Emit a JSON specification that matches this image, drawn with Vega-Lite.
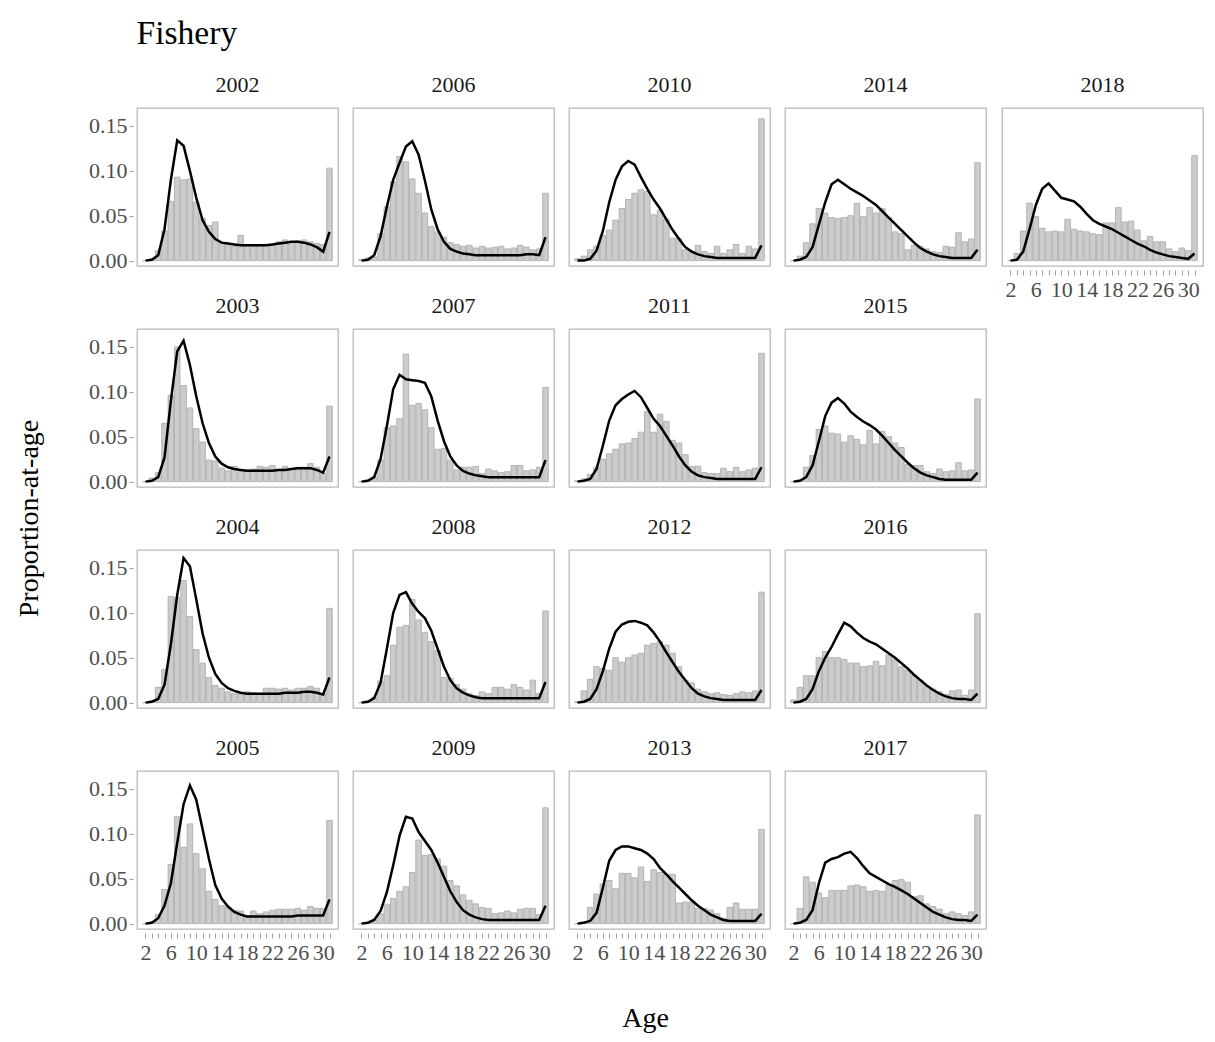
{
"$schema": "https://vega.github.io/schema/vega-lite/v6.json",
"background": "white",
"padding": {"left": 15, "top": 17, "right": 6, "bottom": 6},
"datasets": {"fish": [
{"year":2002,"age":2,"obs":0,"exp":0},{"year":2002,"age":3,"obs":0.002,"exp":0.001},{"year":2002,"age":4,"obs":0.011,"exp":0.006},{"year":2002,"age":5,"obs":0.033,"exp":0.035},{"year":2002,"age":6,"obs":0.066,"exp":0.09},{"year":2002,"age":7,"obs":0.093,"exp":0.134},{"year":2002,"age":8,"obs":0.09,"exp":0.128},{"year":2002,"age":9,"obs":0.091,"exp":0.1},{"year":2002,"age":10,"obs":0.065,"exp":0.07},{"year":2002,"age":11,"obs":0.047,"exp":0.045},{"year":2002,"age":12,"obs":0.039,"exp":0.032},{"year":2002,"age":13,"obs":0.043,"exp":0.024},{"year":2002,"age":14,"obs":0.02,"exp":0.02},{"year":2002,"age":15,"obs":0.018,"exp":0.019},{"year":2002,"age":16,"obs":0.016,"exp":0.018},{"year":2002,"age":17,"obs":0.028,"exp":0.017},{"year":2002,"age":18,"obs":0.017,"exp":0.017},{"year":2002,"age":19,"obs":0.018,"exp":0.017},{"year":2002,"age":20,"obs":0.017,"exp":0.017},{"year":2002,"age":21,"obs":0.017,"exp":0.017},{"year":2002,"age":22,"obs":0.018,"exp":0.018},{"year":2002,"age":23,"obs":0.021,"exp":0.019},{"year":2002,"age":24,"obs":0.023,"exp":0.02},{"year":2002,"age":25,"obs":0.02,"exp":0.021},{"year":2002,"age":26,"obs":0.022,"exp":0.021},{"year":2002,"age":27,"obs":0.023,"exp":0.02},{"year":2002,"age":28,"obs":0.021,"exp":0.018},{"year":2002,"age":29,"obs":0.019,"exp":0.015},{"year":2002,"age":30,"obs":0.018,"exp":0.01},{"year":2002,"age":31,"obs":0.103,"exp":0.032},
{"year":2003,"age":2,"obs":0,"exp":0},{"year":2003,"age":3,"obs":0.004,"exp":0.001},{"year":2003,"age":4,"obs":0.01,"exp":0.005},{"year":2003,"age":5,"obs":0.065,"exp":0.027},{"year":2003,"age":6,"obs":0.096,"exp":0.09},{"year":2003,"age":7,"obs":0.15,"exp":0.145},{"year":2003,"age":8,"obs":0.107,"exp":0.157},{"year":2003,"age":9,"obs":0.082,"exp":0.13},{"year":2003,"age":10,"obs":0.059,"exp":0.095},{"year":2003,"age":11,"obs":0.044,"exp":0.065},{"year":2003,"age":12,"obs":0.024,"exp":0.043},{"year":2003,"age":13,"obs":0.023,"exp":0.028},{"year":2003,"age":14,"obs":0.015,"exp":0.02},{"year":2003,"age":15,"obs":0.012,"exp":0.016},{"year":2003,"age":16,"obs":0.017,"exp":0.014},{"year":2003,"age":17,"obs":0.011,"exp":0.013},{"year":2003,"age":18,"obs":0.013,"exp":0.012},{"year":2003,"age":19,"obs":0.014,"exp":0.012},{"year":2003,"age":20,"obs":0.017,"exp":0.012},{"year":2003,"age":21,"obs":0.016,"exp":0.012},{"year":2003,"age":22,"obs":0.018,"exp":0.012},{"year":2003,"age":23,"obs":0.014,"exp":0.013},{"year":2003,"age":24,"obs":0.017,"exp":0.013},{"year":2003,"age":25,"obs":0.014,"exp":0.014},{"year":2003,"age":26,"obs":0.016,"exp":0.015},{"year":2003,"age":27,"obs":0.016,"exp":0.015},{"year":2003,"age":28,"obs":0.02,"exp":0.015},{"year":2003,"age":29,"obs":0.016,"exp":0.013},{"year":2003,"age":30,"obs":0.009,"exp":0.01},{"year":2003,"age":31,"obs":0.084,"exp":0.028},
{"year":2004,"age":2,"obs":0,"exp":0},{"year":2004,"age":3,"obs":0.002,"exp":0.001},{"year":2004,"age":4,"obs":0.017,"exp":0.004},{"year":2004,"age":5,"obs":0.037,"exp":0.02},{"year":2004,"age":6,"obs":0.118,"exp":0.065},{"year":2004,"age":7,"obs":0.117,"exp":0.12},{"year":2004,"age":8,"obs":0.136,"exp":0.161},{"year":2004,"age":9,"obs":0.096,"exp":0.152},{"year":2004,"age":10,"obs":0.059,"exp":0.115},{"year":2004,"age":11,"obs":0.044,"exp":0.077},{"year":2004,"age":12,"obs":0.028,"exp":0.05},{"year":2004,"age":13,"obs":0.019,"exp":0.032},{"year":2004,"age":14,"obs":0.016,"exp":0.022},{"year":2004,"age":15,"obs":0.012,"exp":0.016},{"year":2004,"age":16,"obs":0.01,"exp":0.013},{"year":2004,"age":17,"obs":0.01,"exp":0.011},{"year":2004,"age":18,"obs":0.012,"exp":0.01},{"year":2004,"age":19,"obs":0.011,"exp":0.01},{"year":2004,"age":20,"obs":0.01,"exp":0.01},{"year":2004,"age":21,"obs":0.016,"exp":0.01},{"year":2004,"age":22,"obs":0.016,"exp":0.01},{"year":2004,"age":23,"obs":0.015,"exp":0.01},{"year":2004,"age":24,"obs":0.016,"exp":0.011},{"year":2004,"age":25,"obs":0.014,"exp":0.011},{"year":2004,"age":26,"obs":0.016,"exp":0.011},{"year":2004,"age":27,"obs":0.016,"exp":0.012},{"year":2004,"age":28,"obs":0.018,"exp":0.012},{"year":2004,"age":29,"obs":0.016,"exp":0.011},{"year":2004,"age":30,"obs":0.01,"exp":0.009},{"year":2004,"age":31,"obs":0.105,"exp":0.028},
{"year":2005,"age":2,"obs":0,"exp":0},{"year":2005,"age":3,"obs":0.002,"exp":0.001},{"year":2005,"age":4,"obs":0.01,"exp":0.006},{"year":2005,"age":5,"obs":0.038,"exp":0.02},{"year":2005,"age":6,"obs":0.066,"exp":0.045},{"year":2005,"age":7,"obs":0.119,"exp":0.09},{"year":2005,"age":8,"obs":0.085,"exp":0.133},{"year":2005,"age":9,"obs":0.111,"exp":0.154},{"year":2005,"age":10,"obs":0.078,"exp":0.138},{"year":2005,"age":11,"obs":0.061,"exp":0.105},{"year":2005,"age":12,"obs":0.036,"exp":0.072},{"year":2005,"age":13,"obs":0.027,"exp":0.043},{"year":2005,"age":14,"obs":0.02,"exp":0.028},{"year":2005,"age":15,"obs":0.018,"exp":0.019},{"year":2005,"age":16,"obs":0.015,"exp":0.013},{"year":2005,"age":17,"obs":0.014,"exp":0.01},{"year":2005,"age":18,"obs":0.009,"exp":0.008},{"year":2005,"age":19,"obs":0.014,"exp":0.008},{"year":2005,"age":20,"obs":0.011,"exp":0.008},{"year":2005,"age":21,"obs":0.013,"exp":0.008},{"year":2005,"age":22,"obs":0.015,"exp":0.008},{"year":2005,"age":23,"obs":0.016,"exp":0.008},{"year":2005,"age":24,"obs":0.016,"exp":0.008},{"year":2005,"age":25,"obs":0.016,"exp":0.008},{"year":2005,"age":26,"obs":0.017,"exp":0.009},{"year":2005,"age":27,"obs":0.015,"exp":0.009},{"year":2005,"age":28,"obs":0.019,"exp":0.009},{"year":2005,"age":29,"obs":0.017,"exp":0.009},{"year":2005,"age":30,"obs":0.017,"exp":0.009},{"year":2005,"age":31,"obs":0.115,"exp":0.027},
{"year":2006,"age":2,"obs":0.001,"exp":0},{"year":2006,"age":3,"obs":0.003,"exp":0.001},{"year":2006,"age":4,"obs":0.004,"exp":0.006},{"year":2006,"age":5,"obs":0.03,"exp":0.027},{"year":2006,"age":6,"obs":0.06,"exp":0.06},{"year":2006,"age":7,"obs":0.088,"exp":0.09},{"year":2006,"age":8,"obs":0.116,"exp":0.109},{"year":2006,"age":9,"obs":0.11,"exp":0.127},{"year":2006,"age":10,"obs":0.091,"exp":0.133},{"year":2006,"age":11,"obs":0.075,"exp":0.118},{"year":2006,"age":12,"obs":0.053,"exp":0.089},{"year":2006,"age":13,"obs":0.038,"exp":0.057},{"year":2006,"age":14,"obs":0.032,"exp":0.035},{"year":2006,"age":15,"obs":0.026,"exp":0.021},{"year":2006,"age":16,"obs":0.02,"exp":0.013},{"year":2006,"age":17,"obs":0.018,"exp":0.01},{"year":2006,"age":18,"obs":0.016,"exp":0.008},{"year":2006,"age":19,"obs":0.017,"exp":0.007},{"year":2006,"age":20,"obs":0.014,"exp":0.006},{"year":2006,"age":21,"obs":0.016,"exp":0.006},{"year":2006,"age":22,"obs":0.014,"exp":0.006},{"year":2006,"age":23,"obs":0.015,"exp":0.006},{"year":2006,"age":24,"obs":0.016,"exp":0.006},{"year":2006,"age":25,"obs":0.013,"exp":0.006},{"year":2006,"age":26,"obs":0.014,"exp":0.006},{"year":2006,"age":27,"obs":0.017,"exp":0.006},{"year":2006,"age":28,"obs":0.015,"exp":0.007},{"year":2006,"age":29,"obs":0.012,"exp":0.007},{"year":2006,"age":30,"obs":0.013,"exp":0.006},{"year":2006,"age":31,"obs":0.075,"exp":0.026},
{"year":2007,"age":2,"obs":0,"exp":0},{"year":2007,"age":3,"obs":0.002,"exp":0.001},{"year":2007,"age":4,"obs":0.005,"exp":0.005},{"year":2007,"age":5,"obs":0.024,"exp":0.025},{"year":2007,"age":6,"obs":0.06,"exp":0.062},{"year":2007,"age":7,"obs":0.062,"exp":0.103},{"year":2007,"age":8,"obs":0.07,"exp":0.119},{"year":2007,"age":9,"obs":0.142,"exp":0.114},{"year":2007,"age":10,"obs":0.085,"exp":0.113},{"year":2007,"age":11,"obs":0.087,"exp":0.112},{"year":2007,"age":12,"obs":0.08,"exp":0.11},{"year":2007,"age":13,"obs":0.06,"exp":0.095},{"year":2007,"age":14,"obs":0.036,"exp":0.068},{"year":2007,"age":15,"obs":0.037,"exp":0.045},{"year":2007,"age":16,"obs":0.024,"exp":0.028},{"year":2007,"age":17,"obs":0.013,"exp":0.018},{"year":2007,"age":18,"obs":0.016,"exp":0.012},{"year":2007,"age":19,"obs":0.016,"exp":0.009},{"year":2007,"age":20,"obs":0.017,"exp":0.007},{"year":2007,"age":21,"obs":0.009,"exp":0.006},{"year":2007,"age":22,"obs":0.014,"exp":0.005},{"year":2007,"age":23,"obs":0.012,"exp":0.005},{"year":2007,"age":24,"obs":0.01,"exp":0.005},{"year":2007,"age":25,"obs":0.011,"exp":0.005},{"year":2007,"age":26,"obs":0.018,"exp":0.005},{"year":2007,"age":27,"obs":0.018,"exp":0.005},{"year":2007,"age":28,"obs":0.012,"exp":0.005},{"year":2007,"age":29,"obs":0.013,"exp":0.005},{"year":2007,"age":30,"obs":0.016,"exp":0.005},{"year":2007,"age":31,"obs":0.105,"exp":0.024},
{"year":2008,"age":2,"obs":0,"exp":0},{"year":2008,"age":3,"obs":0.002,"exp":0.001},{"year":2008,"age":4,"obs":0.006,"exp":0.005},{"year":2008,"age":5,"obs":0.024,"exp":0.022},{"year":2008,"age":6,"obs":0.03,"exp":0.06},{"year":2008,"age":7,"obs":0.064,"exp":0.1},{"year":2008,"age":8,"obs":0.084,"exp":0.12},{"year":2008,"age":9,"obs":0.086,"exp":0.123},{"year":2008,"age":10,"obs":0.115,"exp":0.11},{"year":2008,"age":11,"obs":0.092,"exp":0.101},{"year":2008,"age":12,"obs":0.078,"exp":0.094},{"year":2008,"age":13,"obs":0.068,"exp":0.08},{"year":2008,"age":14,"obs":0.058,"exp":0.06},{"year":2008,"age":15,"obs":0.028,"exp":0.04},{"year":2008,"age":16,"obs":0.027,"exp":0.025},{"year":2008,"age":17,"obs":0.02,"exp":0.016},{"year":2008,"age":18,"obs":0.015,"exp":0.011},{"year":2008,"age":19,"obs":0.01,"exp":0.008},{"year":2008,"age":20,"obs":0.008,"exp":0.006},{"year":2008,"age":21,"obs":0.012,"exp":0.005},{"year":2008,"age":22,"obs":0.01,"exp":0.005},{"year":2008,"age":23,"obs":0.017,"exp":0.005},{"year":2008,"age":24,"obs":0.017,"exp":0.005},{"year":2008,"age":25,"obs":0.015,"exp":0.005},{"year":2008,"age":26,"obs":0.02,"exp":0.005},{"year":2008,"age":27,"obs":0.017,"exp":0.005},{"year":2008,"age":28,"obs":0.014,"exp":0.005},{"year":2008,"age":29,"obs":0.025,"exp":0.005},{"year":2008,"age":30,"obs":0.01,"exp":0.005},{"year":2008,"age":31,"obs":0.102,"exp":0.023},
{"year":2009,"age":2,"obs":0,"exp":0},{"year":2009,"age":3,"obs":0.001,"exp":0.001},{"year":2009,"age":4,"obs":0.004,"exp":0.004},{"year":2009,"age":5,"obs":0.011,"exp":0.014},{"year":2009,"age":6,"obs":0.021,"exp":0.035},{"year":2009,"age":7,"obs":0.028,"exp":0.065},{"year":2009,"age":8,"obs":0.036,"exp":0.098},{"year":2009,"age":9,"obs":0.041,"exp":0.119},{"year":2009,"age":10,"obs":0.057,"exp":0.117},{"year":2009,"age":11,"obs":0.093,"exp":0.102},{"year":2009,"age":12,"obs":0.076,"exp":0.092},{"year":2009,"age":13,"obs":0.077,"exp":0.082},{"year":2009,"age":14,"obs":0.072,"exp":0.068},{"year":2009,"age":15,"obs":0.064,"exp":0.052},{"year":2009,"age":16,"obs":0.048,"exp":0.036},{"year":2009,"age":17,"obs":0.042,"exp":0.024},{"year":2009,"age":18,"obs":0.032,"exp":0.015},{"year":2009,"age":19,"obs":0.026,"exp":0.01},{"year":2009,"age":20,"obs":0.022,"exp":0.007},{"year":2009,"age":21,"obs":0.018,"exp":0.005},{"year":2009,"age":22,"obs":0.017,"exp":0.004},{"year":2009,"age":23,"obs":0.011,"exp":0.004},{"year":2009,"age":24,"obs":0.012,"exp":0.004},{"year":2009,"age":25,"obs":0.014,"exp":0.004},{"year":2009,"age":26,"obs":0.012,"exp":0.004},{"year":2009,"age":27,"obs":0.016,"exp":0.004},{"year":2009,"age":28,"obs":0.017,"exp":0.004},{"year":2009,"age":29,"obs":0.017,"exp":0.004},{"year":2009,"age":30,"obs":0.01,"exp":0.004},{"year":2009,"age":31,"obs":0.129,"exp":0.02},
{"year":2010,"age":2,"obs":0.002,"exp":0},{"year":2010,"age":3,"obs":0.005,"exp":0},{"year":2010,"age":4,"obs":0.012,"exp":0.002},{"year":2010,"age":5,"obs":0.016,"exp":0.011},{"year":2010,"age":6,"obs":0.028,"exp":0.033},{"year":2010,"age":7,"obs":0.034,"exp":0.065},{"year":2010,"age":8,"obs":0.045,"exp":0.09},{"year":2010,"age":9,"obs":0.058,"exp":0.105},{"year":2010,"age":10,"obs":0.068,"exp":0.111},{"year":2010,"age":11,"obs":0.075,"exp":0.107},{"year":2010,"age":12,"obs":0.079,"exp":0.093},{"year":2010,"age":13,"obs":0.077,"exp":0.08},{"year":2010,"age":14,"obs":0.051,"exp":0.068},{"year":2010,"age":15,"obs":0.056,"exp":0.058},{"year":2010,"age":16,"obs":0.046,"exp":0.046},{"year":2010,"age":17,"obs":0.025,"exp":0.034},{"year":2010,"age":18,"obs":0.025,"exp":0.024},{"year":2010,"age":19,"obs":0.012,"exp":0.015},{"year":2010,"age":20,"obs":0.01,"exp":0.01},{"year":2010,"age":21,"obs":0.017,"exp":0.007},{"year":2010,"age":22,"obs":0.01,"exp":0.005},{"year":2010,"age":23,"obs":0.008,"exp":0.004},{"year":2010,"age":24,"obs":0.016,"exp":0.003},{"year":2010,"age":25,"obs":0.008,"exp":0.003},{"year":2010,"age":26,"obs":0.012,"exp":0.003},{"year":2010,"age":27,"obs":0.018,"exp":0.003},{"year":2010,"age":28,"obs":0.008,"exp":0.003},{"year":2010,"age":29,"obs":0.016,"exp":0.003},{"year":2010,"age":30,"obs":0.013,"exp":0.003},{"year":2010,"age":31,"obs":0.158,"exp":0.017},
{"year":2011,"age":2,"obs":0.001,"exp":0},{"year":2011,"age":3,"obs":0.003,"exp":0.001},{"year":2011,"age":4,"obs":0.008,"exp":0.003},{"year":2011,"age":5,"obs":0.016,"exp":0.014},{"year":2011,"age":6,"obs":0.025,"exp":0.04},{"year":2011,"age":7,"obs":0.031,"exp":0.068},{"year":2011,"age":8,"obs":0.036,"exp":0.085},{"year":2011,"age":9,"obs":0.042,"exp":0.092},{"year":2011,"age":10,"obs":0.043,"exp":0.097},{"year":2011,"age":11,"obs":0.048,"exp":0.101},{"year":2011,"age":12,"obs":0.055,"exp":0.094},{"year":2011,"age":13,"obs":0.078,"exp":0.082},{"year":2011,"age":14,"obs":0.055,"exp":0.07},{"year":2011,"age":15,"obs":0.075,"exp":0.062},{"year":2011,"age":16,"obs":0.067,"exp":0.051},{"year":2011,"age":17,"obs":0.046,"exp":0.04},{"year":2011,"age":18,"obs":0.043,"exp":0.028},{"year":2011,"age":19,"obs":0.03,"exp":0.018},{"year":2011,"age":20,"obs":0.017,"exp":0.011},{"year":2011,"age":21,"obs":0.017,"exp":0.007},{"year":2011,"age":22,"obs":0.01,"exp":0.005},{"year":2011,"age":23,"obs":0.009,"exp":0.004},{"year":2011,"age":24,"obs":0.009,"exp":0.003},{"year":2011,"age":25,"obs":0.015,"exp":0.003},{"year":2011,"age":26,"obs":0.011,"exp":0.003},{"year":2011,"age":27,"obs":0.016,"exp":0.003},{"year":2011,"age":28,"obs":0.011,"exp":0.003},{"year":2011,"age":29,"obs":0.013,"exp":0.003},{"year":2011,"age":30,"obs":0.015,"exp":0.003},{"year":2011,"age":31,"obs":0.143,"exp":0.016},
{"year":2012,"age":2,"obs":0.001,"exp":0},{"year":2012,"age":3,"obs":0.013,"exp":0.001},{"year":2012,"age":4,"obs":0.026,"exp":0.004},{"year":2012,"age":5,"obs":0.04,"exp":0.015},{"year":2012,"age":6,"obs":0.038,"exp":0.035},{"year":2012,"age":7,"obs":0.036,"exp":0.06},{"year":2012,"age":8,"obs":0.05,"exp":0.079},{"year":2012,"age":9,"obs":0.045,"exp":0.087},{"year":2012,"age":10,"obs":0.05,"exp":0.09},{"year":2012,"age":11,"obs":0.053,"exp":0.091},{"year":2012,"age":12,"obs":0.055,"exp":0.089},{"year":2012,"age":13,"obs":0.064,"exp":0.086},{"year":2012,"age":14,"obs":0.066,"exp":0.078},{"year":2012,"age":15,"obs":0.068,"exp":0.068},{"year":2012,"age":16,"obs":0.064,"exp":0.056},{"year":2012,"age":17,"obs":0.055,"exp":0.045},{"year":2012,"age":18,"obs":0.04,"exp":0.034},{"year":2012,"age":19,"obs":0.025,"exp":0.025},{"year":2012,"age":20,"obs":0.022,"exp":0.016},{"year":2012,"age":21,"obs":0.015,"exp":0.01},{"year":2012,"age":22,"obs":0.012,"exp":0.007},{"year":2012,"age":23,"obs":0.01,"exp":0.005},{"year":2012,"age":24,"obs":0.011,"exp":0.004},{"year":2012,"age":25,"obs":0.009,"exp":0.003},{"year":2012,"age":26,"obs":0.008,"exp":0.003},{"year":2012,"age":27,"obs":0.01,"exp":0.003},{"year":2012,"age":28,"obs":0.012,"exp":0.003},{"year":2012,"age":29,"obs":0.011,"exp":0.003},{"year":2012,"age":30,"obs":0.013,"exp":0.003},{"year":2012,"age":31,"obs":0.123,"exp":0.014},
{"year":2013,"age":2,"obs":0,"exp":0},{"year":2013,"age":3,"obs":0.002,"exp":0.001},{"year":2013,"age":4,"obs":0.018,"exp":0.003},{"year":2013,"age":5,"obs":0.033,"exp":0.012},{"year":2013,"age":6,"obs":0.044,"exp":0.04},{"year":2013,"age":7,"obs":0.048,"exp":0.07},{"year":2013,"age":8,"obs":0.039,"exp":0.082},{"year":2013,"age":9,"obs":0.056,"exp":0.086},{"year":2013,"age":10,"obs":0.056,"exp":0.086},{"year":2013,"age":11,"obs":0.051,"exp":0.084},{"year":2013,"age":12,"obs":0.063,"exp":0.082},{"year":2013,"age":13,"obs":0.047,"exp":0.078},{"year":2013,"age":14,"obs":0.06,"exp":0.072},{"year":2013,"age":15,"obs":0.057,"exp":0.062},{"year":2013,"age":16,"obs":0.055,"exp":0.055},{"year":2013,"age":17,"obs":0.055,"exp":0.047},{"year":2013,"age":18,"obs":0.023,"exp":0.04},{"year":2013,"age":19,"obs":0.024,"exp":0.033},{"year":2013,"age":20,"obs":0.024,"exp":0.026},{"year":2013,"age":21,"obs":0.017,"exp":0.02},{"year":2013,"age":22,"obs":0.017,"exp":0.015},{"year":2013,"age":23,"obs":0.015,"exp":0.01},{"year":2013,"age":24,"obs":0.011,"exp":0.007},{"year":2013,"age":25,"obs":0.006,"exp":0.004},{"year":2013,"age":26,"obs":0.018,"exp":0.003},{"year":2013,"age":27,"obs":0.023,"exp":0.003},{"year":2013,"age":28,"obs":0.016,"exp":0.003},{"year":2013,"age":29,"obs":0.016,"exp":0.003},{"year":2013,"age":30,"obs":0.016,"exp":0.003},{"year":2013,"age":31,"obs":0.105,"exp":0.011},
{"year":2014,"age":2,"obs":0,"exp":0},{"year":2014,"age":3,"obs":0.005,"exp":0.001},{"year":2014,"age":4,"obs":0.02,"exp":0.004},{"year":2014,"age":5,"obs":0.041,"exp":0.015},{"year":2014,"age":6,"obs":0.058,"exp":0.04},{"year":2014,"age":7,"obs":0.053,"exp":0.065},{"year":2014,"age":8,"obs":0.048,"exp":0.085},{"year":2014,"age":9,"obs":0.047,"exp":0.09},{"year":2014,"age":10,"obs":0.048,"exp":0.085},{"year":2014,"age":11,"obs":0.05,"exp":0.08},{"year":2014,"age":12,"obs":0.064,"exp":0.076},{"year":2014,"age":13,"obs":0.049,"exp":0.072},{"year":2014,"age":14,"obs":0.059,"exp":0.067},{"year":2014,"age":15,"obs":0.053,"exp":0.062},{"year":2014,"age":16,"obs":0.058,"exp":0.055},{"year":2014,"age":17,"obs":0.048,"exp":0.048},{"year":2014,"age":18,"obs":0.032,"exp":0.041},{"year":2014,"age":19,"obs":0.03,"exp":0.034},{"year":2014,"age":20,"obs":0.012,"exp":0.027},{"year":2014,"age":21,"obs":0.017,"exp":0.02},{"year":2014,"age":22,"obs":0.016,"exp":0.014},{"year":2014,"age":23,"obs":0.013,"exp":0.01},{"year":2014,"age":24,"obs":0.01,"exp":0.007},{"year":2014,"age":25,"obs":0.009,"exp":0.005},{"year":2014,"age":26,"obs":0.016,"exp":0.004},{"year":2014,"age":27,"obs":0.015,"exp":0.003},{"year":2014,"age":28,"obs":0.031,"exp":0.003},{"year":2014,"age":29,"obs":0.021,"exp":0.003},{"year":2014,"age":30,"obs":0.024,"exp":0.003},{"year":2014,"age":31,"obs":0.109,"exp":0.012},
{"year":2015,"age":2,"obs":0,"exp":0},{"year":2015,"age":3,"obs":0.002,"exp":0.001},{"year":2015,"age":4,"obs":0.016,"exp":0.005},{"year":2015,"age":5,"obs":0.029,"exp":0.018},{"year":2015,"age":6,"obs":0.058,"exp":0.045},{"year":2015,"age":7,"obs":0.062,"exp":0.073},{"year":2015,"age":8,"obs":0.054,"exp":0.088},{"year":2015,"age":9,"obs":0.053,"exp":0.093},{"year":2015,"age":10,"obs":0.044,"exp":0.087},{"year":2015,"age":11,"obs":0.051,"exp":0.078},{"year":2015,"age":12,"obs":0.047,"exp":0.072},{"year":2015,"age":13,"obs":0.041,"exp":0.067},{"year":2015,"age":14,"obs":0.057,"exp":0.063},{"year":2015,"age":15,"obs":0.042,"exp":0.058},{"year":2015,"age":16,"obs":0.056,"exp":0.051},{"year":2015,"age":17,"obs":0.05,"exp":0.043},{"year":2015,"age":18,"obs":0.043,"exp":0.035},{"year":2015,"age":19,"obs":0.038,"exp":0.028},{"year":2015,"age":20,"obs":0.019,"exp":0.021},{"year":2015,"age":21,"obs":0.018,"exp":0.015},{"year":2015,"age":22,"obs":0.018,"exp":0.01},{"year":2015,"age":23,"obs":0.011,"exp":0.007},{"year":2015,"age":24,"obs":0.009,"exp":0.005},{"year":2015,"age":25,"obs":0.014,"exp":0.003},{"year":2015,"age":26,"obs":0.011,"exp":0.002},{"year":2015,"age":27,"obs":0.012,"exp":0.002},{"year":2015,"age":28,"obs":0.021,"exp":0.002},{"year":2015,"age":29,"obs":0.012,"exp":0.002},{"year":2015,"age":30,"obs":0.013,"exp":0.002},{"year":2015,"age":31,"obs":0.092,"exp":0.01},
{"year":2016,"age":2,"obs":0.003,"exp":0},{"year":2016,"age":3,"obs":0.017,"exp":0.001},{"year":2016,"age":4,"obs":0.03,"exp":0.004},{"year":2016,"age":5,"obs":0.03,"exp":0.015},{"year":2016,"age":6,"obs":0.05,"exp":0.035},{"year":2016,"age":7,"obs":0.057,"exp":0.05},{"year":2016,"age":8,"obs":0.05,"exp":0.062},{"year":2016,"age":9,"obs":0.05,"exp":0.076},{"year":2016,"age":10,"obs":0.048,"exp":0.089},{"year":2016,"age":11,"obs":0.044,"exp":0.085},{"year":2016,"age":12,"obs":0.044,"exp":0.078},{"year":2016,"age":13,"obs":0.04,"exp":0.072},{"year":2016,"age":14,"obs":0.041,"exp":0.068},{"year":2016,"age":15,"obs":0.046,"exp":0.065},{"year":2016,"age":16,"obs":0.041,"exp":0.06},{"year":2016,"age":17,"obs":0.053,"exp":0.055},{"year":2016,"age":18,"obs":0.048,"exp":0.05},{"year":2016,"age":19,"obs":0.04,"exp":0.044},{"year":2016,"age":20,"obs":0.036,"exp":0.038},{"year":2016,"age":21,"obs":0.03,"exp":0.031},{"year":2016,"age":22,"obs":0.025,"exp":0.025},{"year":2016,"age":23,"obs":0.018,"exp":0.019},{"year":2016,"age":24,"obs":0.015,"exp":0.014},{"year":2016,"age":25,"obs":0.012,"exp":0.01},{"year":2016,"age":26,"obs":0.009,"exp":0.007},{"year":2016,"age":27,"obs":0.013,"exp":0.005},{"year":2016,"age":28,"obs":0.014,"exp":0.004},{"year":2016,"age":29,"obs":0.008,"exp":0.004},{"year":2016,"age":30,"obs":0.014,"exp":0.003},{"year":2016,"age":31,"obs":0.099,"exp":0.01},
{"year":2017,"age":2,"obs":0,"exp":0},{"year":2017,"age":3,"obs":0.017,"exp":0.001},{"year":2017,"age":4,"obs":0.052,"exp":0.004},{"year":2017,"age":5,"obs":0.046,"exp":0.015},{"year":2017,"age":6,"obs":0.034,"exp":0.045},{"year":2017,"age":7,"obs":0.029,"exp":0.068},{"year":2017,"age":8,"obs":0.037,"exp":0.072},{"year":2017,"age":9,"obs":0.037,"exp":0.074},{"year":2017,"age":10,"obs":0.037,"exp":0.078},{"year":2017,"age":11,"obs":0.042,"exp":0.08},{"year":2017,"age":12,"obs":0.043,"exp":0.073},{"year":2017,"age":13,"obs":0.041,"exp":0.064},{"year":2017,"age":14,"obs":0.036,"exp":0.056},{"year":2017,"age":15,"obs":0.037,"exp":0.052},{"year":2017,"age":16,"obs":0.036,"exp":0.048},{"year":2017,"age":17,"obs":0.043,"exp":0.044},{"year":2017,"age":18,"obs":0.048,"exp":0.041},{"year":2017,"age":19,"obs":0.049,"exp":0.037},{"year":2017,"age":20,"obs":0.046,"exp":0.033},{"year":2017,"age":21,"obs":0.03,"exp":0.028},{"year":2017,"age":22,"obs":0.031,"exp":0.023},{"year":2017,"age":23,"obs":0.022,"exp":0.018},{"year":2017,"age":24,"obs":0.019,"exp":0.013},{"year":2017,"age":25,"obs":0.016,"exp":0.01},{"year":2017,"age":26,"obs":0.011,"exp":0.007},{"year":2017,"age":27,"obs":0.013,"exp":0.005},{"year":2017,"age":28,"obs":0.011,"exp":0.004},{"year":2017,"age":29,"obs":0.009,"exp":0.004},{"year":2017,"age":30,"obs":0.013,"exp":0.003},{"year":2017,"age":31,"obs":0.121,"exp":0.01},
{"year":2018,"age":2,"obs":0,"exp":0},{"year":2018,"age":3,"obs":0.008,"exp":0.001},{"year":2018,"age":4,"obs":0.033,"exp":0.01},{"year":2018,"age":5,"obs":0.064,"exp":0.035},{"year":2018,"age":6,"obs":0.049,"exp":0.062},{"year":2018,"age":7,"obs":0.036,"exp":0.08},{"year":2018,"age":8,"obs":0.032,"exp":0.086},{"year":2018,"age":9,"obs":0.033,"exp":0.078},{"year":2018,"age":10,"obs":0.032,"exp":0.07},{"year":2018,"age":11,"obs":0.046,"exp":0.068},{"year":2018,"age":12,"obs":0.035,"exp":0.066},{"year":2018,"age":13,"obs":0.033,"exp":0.06},{"year":2018,"age":14,"obs":0.032,"exp":0.052},{"year":2018,"age":15,"obs":0.03,"exp":0.045},{"year":2018,"age":16,"obs":0.029,"exp":0.041},{"year":2018,"age":17,"obs":0.042,"exp":0.038},{"year":2018,"age":18,"obs":0.042,"exp":0.035},{"year":2018,"age":19,"obs":0.059,"exp":0.031},{"year":2018,"age":20,"obs":0.043,"exp":0.027},{"year":2018,"age":21,"obs":0.044,"exp":0.023},{"year":2018,"age":22,"obs":0.034,"exp":0.019},{"year":2018,"age":23,"obs":0.022,"exp":0.016},{"year":2018,"age":24,"obs":0.027,"exp":0.012},{"year":2018,"age":25,"obs":0.021,"exp":0.009},{"year":2018,"age":26,"obs":0.021,"exp":0.007},{"year":2018,"age":27,"obs":0.013,"exp":0.005},{"year":2018,"age":28,"obs":0.01,"exp":0.004},{"year":2018,"age":29,"obs":0.014,"exp":0.003},{"year":2018,"age":30,"obs":0.011,"exp":0.002},{"year":2018,"age":31,"obs":0.117,"exp":0.008}
]},
"title": {"text": "Fishery", "anchor": "start", "fontSize": 33.6, "dx": 121, "offset": 23},
"vconcat": [{
  "title": {"text": "Age", "orient": "bottom", "anchor": "middle", "fontSize": 28, "offset": 42, "dx": 36},
  "vconcat": [{
    "title": {"text": "Proportion-at-age", "orient": "left", "anchor": "middle", "fontSize": 28, "offset": 45},
    "spacing": -5,
    "vconcat": [
      {"spacing": 14, "hconcat": [
        {"data": {"name": "fish"}, "transform": [{"filter": {"field": "year", "oneOf": [2002, 2006, 2010, 2014]}}],
         "facet": {"column": {"field": "year", "type": "ordinal", "title": null}}, "spacing": 13,
         "spec": {"width": 201, "height": 158, "layer": [
           {"mark": {"type": "bar", "size": 5.5, "fill": "#cccccc", "stroke": "#b3b3b3", "strokeWidth": 1},
            "encoding": {"x": {"field": "age", "type": "quantitative", "scale": {"domain": [1.45, 31.55], "nice": false, "zero": false}, "axis": null, "title": null},
                         "y": {"field": "obs", "type": "quantitative", "scale": {"domain": [-0.006, 0.17], "nice": false}, "axis": {"values": [0, 0.05, 0.1, 0.15], "format": ".2f"}, "title": null},
                         "y2": {"datum": 0}}},
           {"mark": {"type": "line", "color": "black", "strokeWidth": 2.5},
            "encoding": {"x": {"field": "age", "type": "quantitative", "axis": null, "title": null},
                         "y": {"field": "exp", "type": "quantitative", "axis": {"values": [0, 0.05, 0.1, 0.15], "format": ".2f"}, "title": null}}}
         ]}},
        {"data": {"name": "fish"}, "transform": [{"filter": {"field": "year", "oneOf": [2018]}}],
         "facet": {"column": {"field": "year", "type": "ordinal", "title": null}}, "spacing": 13,
         "spec": {"width": 201, "height": 158, "layer": [
           {"mark": {"type": "bar", "size": 5.5, "fill": "#cccccc", "stroke": "#b3b3b3", "strokeWidth": 1},
            "encoding": {"x": {"field": "age", "type": "quantitative", "scale": {"domain": [1.45, 31.55], "nice": false, "zero": false}, "axis": {"values": [2,3,4,5,6,7,8,9,10,11,12,13,14,15,16,17,18,19,20,21,22,23,24,25,26,27,28,29,30,31], "labelExpr": "(datum.value - 2) % 4 == 0 ? datum.label : ''", "labelOverlap": false, "labelFlush": false, "tickSize": 5, "labelPadding": 4}, "title": null},
                         "y": {"field": "obs", "type": "quantitative", "scale": {"domain": [-0.006, 0.17], "nice": false}, "axis": null, "title": null},
                         "y2": {"datum": 0}}},
           {"mark": {"type": "line", "color": "black", "strokeWidth": 2.5},
            "encoding": {"x": {"field": "age", "type": "quantitative", "axis": {"values": [2,3,4,5,6,7,8,9,10,11,12,13,14,15,16,17,18,19,20,21,22,23,24,25,26,27,28,29,30,31], "labelExpr": "(datum.value - 2) % 4 == 0 ? datum.label : ''", "labelOverlap": false, "labelFlush": false, "tickSize": 5, "labelPadding": 4}, "title": null},
                         "y": {"field": "exp", "type": "quantitative", "axis": null, "title": null}}}
         ]}}
      ]},
      {"spacing": 23, "vconcat": [
        {"data": {"name": "fish"}, "transform": [{"filter": {"field": "year", "oneOf": [2003, 2007, 2011, 2015]}}],
         "facet": {"column": {"field": "year", "type": "ordinal", "title": null}}, "spacing": 13,
         "spec": {"width": 201, "height": 158, "layer": [
           {"mark": {"type": "bar", "size": 5.5, "fill": "#cccccc", "stroke": "#b3b3b3", "strokeWidth": 1},
            "encoding": {"x": {"field": "age", "type": "quantitative", "scale": {"domain": [1.45, 31.55], "nice": false, "zero": false}, "axis": null, "title": null},
                         "y": {"field": "obs", "type": "quantitative", "scale": {"domain": [-0.006, 0.17], "nice": false}, "axis": {"values": [0, 0.05, 0.1, 0.15], "format": ".2f"}, "title": null},
                         "y2": {"datum": 0}}},
           {"mark": {"type": "line", "color": "black", "strokeWidth": 2.5},
            "encoding": {"x": {"field": "age", "type": "quantitative", "axis": null, "title": null},
                         "y": {"field": "exp", "type": "quantitative", "axis": {"values": [0, 0.05, 0.1, 0.15], "format": ".2f"}, "title": null}}}
         ]}},
        {"data": {"name": "fish"}, "transform": [{"filter": {"field": "year", "oneOf": [2004, 2008, 2012, 2016]}}],
         "facet": {"column": {"field": "year", "type": "ordinal", "title": null}}, "spacing": 13,
         "spec": {"width": 201, "height": 158, "layer": [
           {"mark": {"type": "bar", "size": 5.5, "fill": "#cccccc", "stroke": "#b3b3b3", "strokeWidth": 1},
            "encoding": {"x": {"field": "age", "type": "quantitative", "scale": {"domain": [1.45, 31.55], "nice": false, "zero": false}, "axis": null, "title": null},
                         "y": {"field": "obs", "type": "quantitative", "scale": {"domain": [-0.006, 0.17], "nice": false}, "axis": {"values": [0, 0.05, 0.1, 0.15], "format": ".2f"}, "title": null},
                         "y2": {"datum": 0}}},
           {"mark": {"type": "line", "color": "black", "strokeWidth": 2.5},
            "encoding": {"x": {"field": "age", "type": "quantitative", "axis": null, "title": null},
                         "y": {"field": "exp", "type": "quantitative", "axis": {"values": [0, 0.05, 0.1, 0.15], "format": ".2f"}, "title": null}}}
         ]}},
        {"data": {"name": "fish"}, "transform": [{"filter": {"field": "year", "oneOf": [2005, 2009, 2013, 2017]}}],
         "facet": {"column": {"field": "year", "type": "ordinal", "title": null}}, "spacing": 13,
         "spec": {"width": 201, "height": 158, "layer": [
           {"mark": {"type": "bar", "size": 5.5, "fill": "#cccccc", "stroke": "#b3b3b3", "strokeWidth": 1},
            "encoding": {"x": {"field": "age", "type": "quantitative", "scale": {"domain": [1.45, 31.55], "nice": false, "zero": false}, "axis": {"values": [2,3,4,5,6,7,8,9,10,11,12,13,14,15,16,17,18,19,20,21,22,23,24,25,26,27,28,29,30,31], "labelExpr": "(datum.value - 2) % 4 == 0 ? datum.label : ''", "labelOverlap": false, "labelFlush": false, "tickSize": 5, "labelPadding": 4}, "title": null},
                         "y": {"field": "obs", "type": "quantitative", "scale": {"domain": [-0.006, 0.17], "nice": false}, "axis": {"values": [0, 0.05, 0.1, 0.15], "format": ".2f"}, "title": null},
                         "y2": {"datum": 0}}},
           {"mark": {"type": "line", "color": "black", "strokeWidth": 2.5},
            "encoding": {"x": {"field": "age", "type": "quantitative", "axis": {"values": [2,3,4,5,6,7,8,9,10,11,12,13,14,15,16,17,18,19,20,21,22,23,24,25,26,27,28,29,30,31], "labelExpr": "(datum.value - 2) % 4 == 0 ? datum.label : ''", "labelOverlap": false, "labelFlush": false, "tickSize": 5, "labelPadding": 4}, "title": null},
                         "y": {"field": "exp", "type": "quantitative", "axis": {"values": [0, 0.05, 0.1, 0.15], "format": ".2f"}, "title": null}}}
         ]}}
      ]}
    ]
  }]
}],
"config": {
  "font": "Liberation Serif",
  "view": {"stroke": "#b8b8b8", "strokeWidth": 1.3},
  "axis": {"labelFont": "Liberation Serif", "labelFontSize": 22, "labelColor": "#4d4d4d", "tickColor": "#a0a0a0", "tickSize": 4, "domain": false, "grid": false, "labelPadding": 2, "offset": 3, "labelOverlap": false},
  "axisX": {"labelOverlap": false},
  "header": {"labelFont": "Liberation Serif", "labelFontSize": 22, "labelColor": "#1a1a1a", "labelPadding": 10},
  "title": {"font": "Liberation Serif", "fontWeight": "normal", "color": "black"}
}
}
